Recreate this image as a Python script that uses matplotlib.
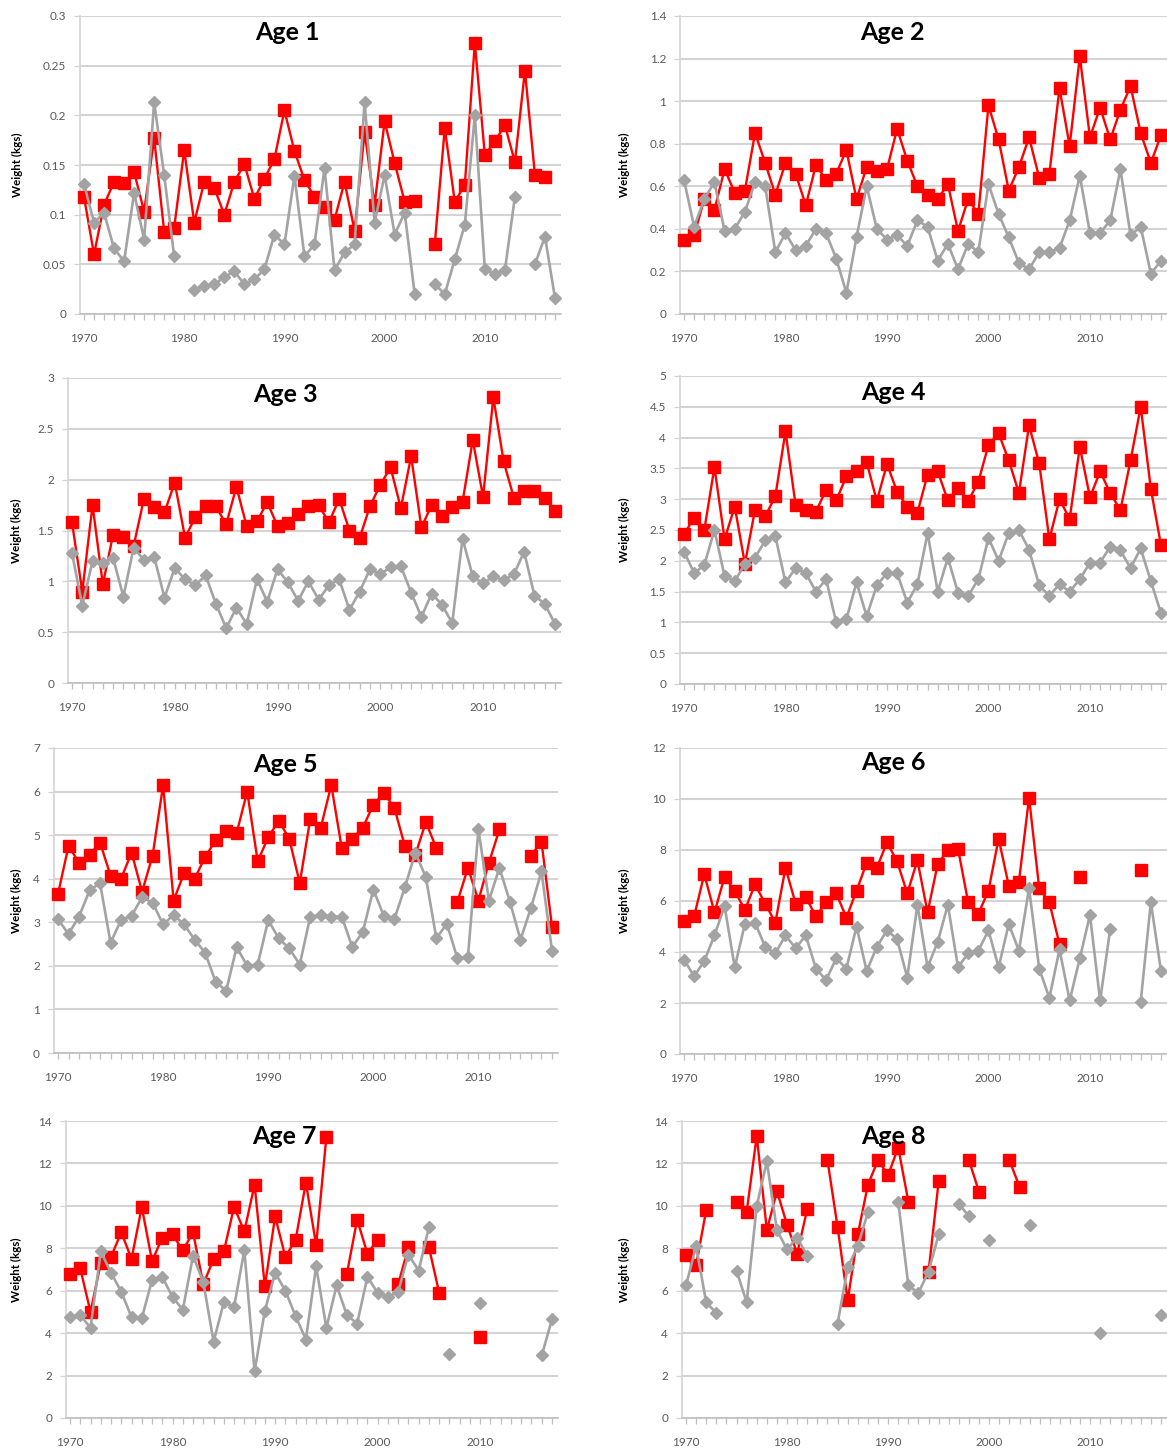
import numpy as np
import matplotlib
matplotlib.use("Agg")
import matplotlib.pyplot as plt

nan = np.nan
years = list(range(1970, 2018))

age1_red = [0.118, 0.060, 0.110, 0.133, 0.132, 0.143, 0.103, 0.177, 0.083, 0.087,
            0.165, 0.092, 0.133, 0.127, 0.100, 0.133, 0.151, 0.116, 0.136, 0.156,
            0.205, 0.164, 0.135, 0.118, 0.108, 0.095, 0.133, 0.084, 0.183, 0.110,
            0.194, 0.152, 0.113, 0.114, nan, 0.070, 0.187, 0.113, 0.130, 0.273,
            0.160, 0.174, 0.190, 0.153, 0.245, 0.140, 0.138, nan]
age1_gray = [0.131, 0.092, 0.102, 0.066, 0.053, 0.122, 0.075, 0.213, 0.140, 0.058,
             nan, 0.024, 0.028, 0.030, 0.037, 0.043, 0.030, 0.035, 0.045, 0.080,
             0.070, 0.139, 0.058, 0.070, 0.147, 0.044, 0.062, 0.070, 0.213, 0.092,
             0.140, 0.080, 0.102, 0.020, nan, 0.030, 0.020, 0.055, 0.090, 0.200,
             0.045, 0.040, 0.044, 0.118, nan, 0.050, 0.078, 0.016]

age2_red = [0.35, 0.37, 0.54, 0.49, 0.68, 0.57, 0.58, 0.85, 0.71, 0.56,
            0.71, 0.66, 0.51, 0.70, 0.63, 0.66, 0.77, 0.54, 0.69, 0.67,
            0.68, 0.87, 0.72, 0.60, 0.56, 0.54, 0.61, 0.39, 0.54, 0.47,
            0.98, 0.82, 0.58, 0.69, 0.83, 0.64, 0.66, 1.06, 0.79, 1.21,
            0.83, 0.97, 0.82, 0.96, 1.07, 0.85, 0.71, 0.84]
age2_gray = [0.63, 0.41, 0.54, 0.62, 0.39, 0.40, 0.48, 0.62, 0.60, 0.29,
             0.38, 0.30, 0.32, 0.40, 0.38, 0.26, 0.10, 0.36, 0.60, 0.40,
             0.35, 0.37, 0.32, 0.44, 0.41, 0.25, 0.33, 0.21, 0.33, 0.29,
             0.61, 0.47, 0.36, 0.24, 0.21, 0.29, 0.29, 0.31, 0.44, 0.65,
             0.38, 0.38, 0.44, 0.68, 0.37, 0.41, 0.19, 0.25]

age3_red = [1.58, 0.90, 1.75, 0.97, 1.46, 1.44, 1.35, 1.81, 1.73, 1.68,
            1.97, 1.43, 1.63, 1.74, 1.74, 1.56, 1.93, 1.54, 1.59, 1.78,
            1.54, 1.57, 1.66, 1.74, 1.75, 1.58, 1.81, 1.50, 1.43, 1.74,
            1.95, 2.12, 1.72, 2.23, 1.53, 1.75, 1.64, 1.73, 1.78, 2.39,
            1.83, 2.81, 2.18, 1.82, 1.89, 1.89, 1.82, 1.69]
age3_gray = [1.28, 0.76, 1.20, 1.18, 1.23, 0.85, 1.33, 1.21, 1.24, 0.84,
             1.13, 1.02, 0.96, 1.06, 0.78, 0.54, 0.74, 0.58, 1.02, 0.80,
             1.12, 0.99, 0.81, 1.00, 0.82, 0.96, 1.02, 0.72, 0.90, 1.12,
             1.07, 1.14, 1.15, 0.89, 0.65, 0.88, 0.77, 0.59, 1.42, 1.05,
             0.98, 1.05, 1.01, 1.07, 1.29, 0.86, 0.78, 0.58]

age4_red = [2.43, 2.70, 2.50, 3.52, 2.35, 2.88, 1.95, 2.83, 2.72, 3.05,
            4.10, 2.90, 2.83, 2.80, 3.15, 2.98, 3.37, 3.45, 3.60, 2.97,
            3.57, 3.12, 2.88, 2.78, 3.40, 3.45, 2.98, 3.18, 2.97, 3.28,
            3.88, 4.07, 3.63, 3.10, 4.20, 3.58, 2.35, 3.00, 2.68, 3.85,
            3.03, 3.45, 3.10, 2.82, 3.63, 4.50, 3.17, 2.25]
age4_gray = [2.15, 1.80, 1.93, 2.50, 1.75, 1.67, 1.95, 2.05, 2.33, 2.40,
             1.65, 1.88, 1.80, 1.50, 1.70, 1.00, 1.05, 1.65, 1.10, 1.60,
             1.80, 1.80, 1.32, 1.62, 2.45, 1.50, 2.05, 1.48, 1.43, 1.70,
             2.37, 2.00, 2.45, 2.50, 2.18, 1.60, 1.43, 1.62, 1.50, 1.70,
             1.97, 1.97, 2.23, 2.17, 1.88, 2.20, 1.67, 1.15]

age5_red = [3.65, 4.75, 4.37, 4.55, 4.83, 4.07, 4.00, 4.60, 3.70, 4.53,
            6.15, 3.50, 4.13, 4.00, 4.50, 4.88, 5.10, 5.05, 6.00, 4.40,
            4.95, 5.33, 4.92, 3.90, 5.37, 5.17, 6.15, 4.70, 4.92, 5.17,
            5.70, 5.97, 5.63, 4.75, 4.55, 5.30, 4.70, nan, 3.47, 4.25,
            3.50, 4.37, 5.13, nan, nan, 4.53, 4.85, 2.90]
age5_gray = [3.07, 2.73, 3.13, 3.73, 3.90, 2.53, 3.05, 3.15, 3.57, 3.45,
             2.95, 3.17, 2.95, 2.60, 2.30, 1.63, 1.43, 2.43, 2.00, 2.03,
             3.05, 2.63, 2.40, 2.03, 3.13, 3.17, 3.13, 3.13, 2.43, 2.78,
             3.75, 3.15, 3.07, 3.80, 4.60, 4.03, 2.63, 2.97, 2.17, 2.20,
             5.13, 3.50, 4.25, 3.47, 2.60, 3.33, 4.17, 2.35]

age6_red = [5.20, 5.40, 7.05, 5.55, 6.95, 6.40, 5.65, 6.65, 5.90, 5.15,
            7.30, 5.90, 6.15, 5.40, 5.95, 6.30, 5.35, 6.40, 7.50, 7.30,
            8.30, 7.55, 6.30, 7.60, 5.55, 7.45, 8.00, 8.05, 5.95, 5.50,
            6.40, 8.45, 6.60, 6.75, 10.05, 6.50, 5.95, 4.30, nan, 6.95,
            nan, nan, nan, nan, nan, 7.20, nan, nan]
age6_gray = [3.70, 3.05, 3.65, 4.65, 5.80, 3.40, 5.10, 5.15, 4.20, 3.95,
             4.65, 4.15, 4.65, 3.35, 2.90, 3.75, 3.35, 5.00, 3.25, 4.20,
             4.85, 4.50, 3.00, 5.85, 3.40, 4.40, 5.85, 3.40, 3.95, 4.05,
             4.85, 3.40, 5.10, 4.05, 6.50, 3.35, 2.20, 4.10, 2.10, 3.75,
             5.45, 2.10, 4.90, nan, nan, 2.05, 5.95, 3.25]

age7_red = [6.80, 7.05, 5.00, 7.30, 7.60, 8.75, 7.50, 9.95, 7.40, 8.50,
            8.65, 7.90, 8.75, 6.30, 7.50, 7.85, 9.95, 8.80, 11.00, 6.20,
            9.50, 7.60, 8.40, 11.10, 8.15, 13.25, nan, 6.80, 9.35, 7.75,
            8.40, nan, 6.30, 8.05, nan, 8.05, 5.90, nan, nan, nan,
            3.80, nan, nan, nan, nan, nan, nan, nan]
age7_gray = [4.75, 4.85, 4.25, 7.85, 6.85, 5.95, 4.75, 4.70, 6.50, 6.65,
             5.70, 5.10, 7.65, 6.40, 3.60, 5.45, 5.25, 7.90, 2.20, 5.05,
             6.85, 6.00, 4.80, 3.70, 7.15, 4.25, 6.25, 4.85, 4.45, 6.65,
             5.90, 5.70, 5.95, 7.70, 6.95, 9.00, nan, 3.00, nan, nan,
             5.40, nan, nan, nan, nan, nan, 2.95, 4.65]

age8_red = [7.70, 7.20, 9.80, nan, nan, 10.20, 9.70, 13.30, 8.85, 10.70,
            9.10, 7.75, 9.85, nan, 12.15, 9.00, 5.55, 8.65, 11.00, 12.15,
            11.45, 12.75, 10.20, nan, 6.90, 11.15, nan, nan, 12.15, 10.65,
            nan, nan, 12.15, 10.90, nan, nan, nan, nan, nan, nan,
            nan, nan, nan, nan, nan, nan, nan, nan]
age8_gray = [6.25, 8.10, 5.45, 4.95, nan, 6.95, 5.45, 10.00, 12.10, 8.85,
             7.95, 8.50, 7.65, nan, nan, 4.45, 7.10, 8.10, 9.70, nan,
             nan, 10.20, 6.25, 5.90, 6.90, 8.65, nan, 10.10, 9.50, nan,
             8.40, nan, nan, nan, 9.10, nan, nan, nan, nan, nan,
             nan, 4.00, nan, nan, nan, nan, nan, 4.85]

titles = ["Age 1", "Age 2", "Age 3", "Age 4", "Age 5", "Age 6", "Age 7", "Age 8"]
red_series = [age1_red, age2_red, age3_red, age4_red, age5_red, age6_red, age7_red, age8_red]
gray_series = [age1_gray, age2_gray, age3_gray, age4_gray, age5_gray, age6_gray, age7_gray, age8_gray]
y_max = [0.3, 1.4, 3, 5, 7, 12, 14, 14]
y_step = [0.05, 0.2, 0.5, 0.5, 1, 2, 2, 2]
y_label = "Weight (kgs)"

# layout in pixels: (x of 1970, x of 2017, y of top gridline, y of zero), title centre, ylabel x
layout = [
    ((84, 555, 16, 314), (287, 32), 17),
    ((684, 1161, 16, 314), (892, 32), 624),
    ((72, 555, 378, 683), (285, 394), 16),
    ((684, 1161, 376, 684), (893, 393), 624),
    ((58, 552, 748, 1053), (285, 765), 16),
    ((684, 1161, 748, 1054), (893, 763), 624),
    ((70, 552, 1121, 1418), (284, 1137), 16),
    ((686, 1161, 1121, 1418), (893, 1137), 624),
]

W, H = 1167, 1455
fig = plt.figure(figsize=(W / 100, H / 100), dpi=100)
fig.patch.set_facecolor("white")

FONT = "Lato"
X0, X1 = 1969.6, 2017.6
RED = "#FF0000"
GRAY = "#A3A3A3"
GRID = "#D4D4D4"
TXT = "#595959"

for i in range(8):
    (p70, p17, ytop, ybot), (tx, ty), ylx = layout[i]
    s = (p17 - p70) / 47.0
    left = p70 - (1970 - X0) * s
    right = p17 + (X1 - 2017) * s
    ax = fig.add_axes([left / W, 1 - ybot / H, (right - left) / W, (ybot - ytop) / H])
    ax.set_xlim(X0, X1)
    ax.set_ylim(0, y_max[i])

    ax.plot(years, red_series[i], color=RED, lw=1.7, marker="s", ms=8.3,
            mec=RED, mfc=RED, zorder=3, clip_on=False)
    ax.plot(years, gray_series[i], color=GRAY, lw=1.9, marker="D", ms=6.5,
            mec=GRAY, mfc=GRAY, zorder=4, clip_on=False)

    yt = np.arange(0, y_max[i] + y_step[i] / 2, y_step[i])
    ax.set_yticks(yt)
    ax.set_yticklabels([("%g" % round(v, 3)) for v in yt])
    ax.grid(axis="y", color=GRID, lw=1.5, zorder=0)
    ax.set_axisbelow(True)

    ax.set_xticks(years)
    ax.set_xticklabels([str(y) if y % 10 == 0 else "" for y in years])

    for sp in ("top", "right"):
        ax.spines[sp].set_visible(False)
    ax.spines["left"].set_color(GRID)
    ax.spines["left"].set_linewidth(1.2)
    ax.spines["bottom"].set_color("#BFBFBF")
    ax.spines["bottom"].set_linewidth(1.2)

    ax.tick_params(axis="x", length=4, width=0.9, color="#BFBFBF", pad=9.5,
                   labelsize=8.5, labelcolor=TXT)
    ax.tick_params(axis="y", length=4, width=0.9, color=GRID, pad=6,
                   labelsize=8.5, labelcolor=TXT)
    for lab in ax.get_xticklabels() + ax.get_yticklabels():
        lab.set_fontfamily(FONT)

    fig.text(tx / W, 1 - ty / H, titles[i], ha="center", va="center",
             fontsize=18, fontweight="bold", family=FONT, color="black")
    fig.text(ylx / W, 1 - ((ytop + ybot) / 2) / H, y_label, rotation=90,
             ha="center", va="center", fontsize=8.3, fontweight="bold",
             family=FONT, color="black")

fig.savefig("out.png", dpi=100, facecolor="white")
